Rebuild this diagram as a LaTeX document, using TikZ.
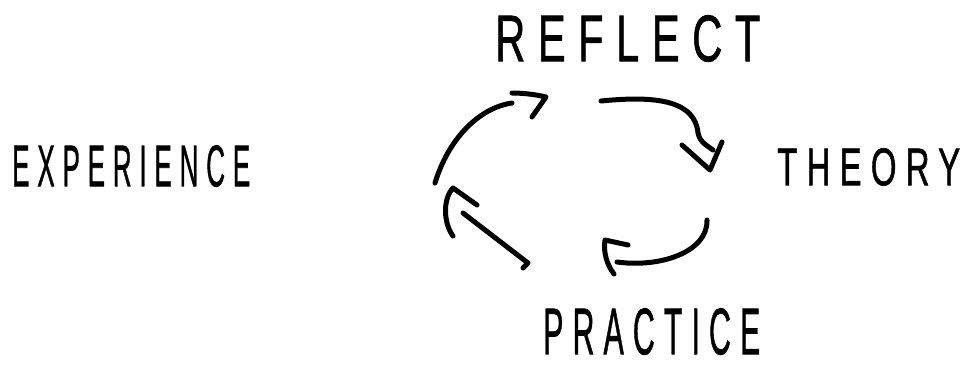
\documentclass[tikz,border=0pt]{standalone}
\usepackage{fontspec}
\setmainfont{Liberation Sans}
\newfontfamily\handfont{Liberation Sans}[FakeBold=1.2]
\usepackage{graphicx}
\begin{document}
\begin{tikzpicture}[x=1pt,y=-1pt,
  stroke/.style={line width=5pt,line cap=round,line join=round,black},
  word/.style={inner sep=0pt,anchor=north west,font=\handfont}]
\useasboundingbox (0,0) rectangle (969,368);
% labels
\node[word] (reflect) at (495,15) {\resizebox{265pt}{46pt}{\addfontfeature{LetterSpace=30}REFLECT}};
\node[word] (experience) at (12,145) {\resizebox{238pt}{41pt}{\addfontfeature{LetterSpace=30}EXPERIENCE}};
\node[word] (theory) at (777,148) {\resizebox{183pt}{37pt}{\addfontfeature{LetterSpace=28}THEORY}};
\node[word] (practice) at (543,308) {\resizebox{217pt}{46pt}{\addfontfeature{LetterSpace=30}PRACTICE}};
% arrow 1 (experience -> reflect)
\coordinate (a1s) at (435,183);
\coordinate (a1e) at (512,103);
\coordinate (a1h) at (546,97);
\draw[stroke] (a1s) .. controls (448,140) and (478,108) .. (a1e);
\draw[stroke] (512,93) .. controls (525,93) and (538,95) .. (a1h) -- (532,117);
% arrow 2 (reflect -> theory)
\coordinate (a2s) at (601,101);
\coordinate (a2e) at (713,150);
\coordinate (a2h) at (710,170);
\draw[stroke] (a2s) .. controls (660,95) and (695,102) .. (698,133) .. controls (700,143) and (708,146) .. (a2e);
\draw[stroke] (682,145) -- (a2h) -- (722,142);
% arrow 3 (theory -> practice)
\coordinate (a3s) at (707,220);
\coordinate (a3e) at (617,262);
\coordinate (a3h) at (605,240);
\draw[stroke] (a3s) .. controls (708,252) and (660,268) .. (a3e);
\draw[stroke] (628,245) -- (a3h) .. controls (603,252) and (607,265) .. (614,274);
% arrow 4 (practice -> experience)
\coordinate (a4s) at (528,263);
\coordinate (a4e) at (463,213);
\coordinate (a4h) at (453,188);
\draw[stroke] (523,268) -- (a4s) -- (a4e);
\draw[stroke] (477,205) -- (a4h) .. controls (442,200) and (444,224) .. (453,236);
\end{tikzpicture}
\end{document}
